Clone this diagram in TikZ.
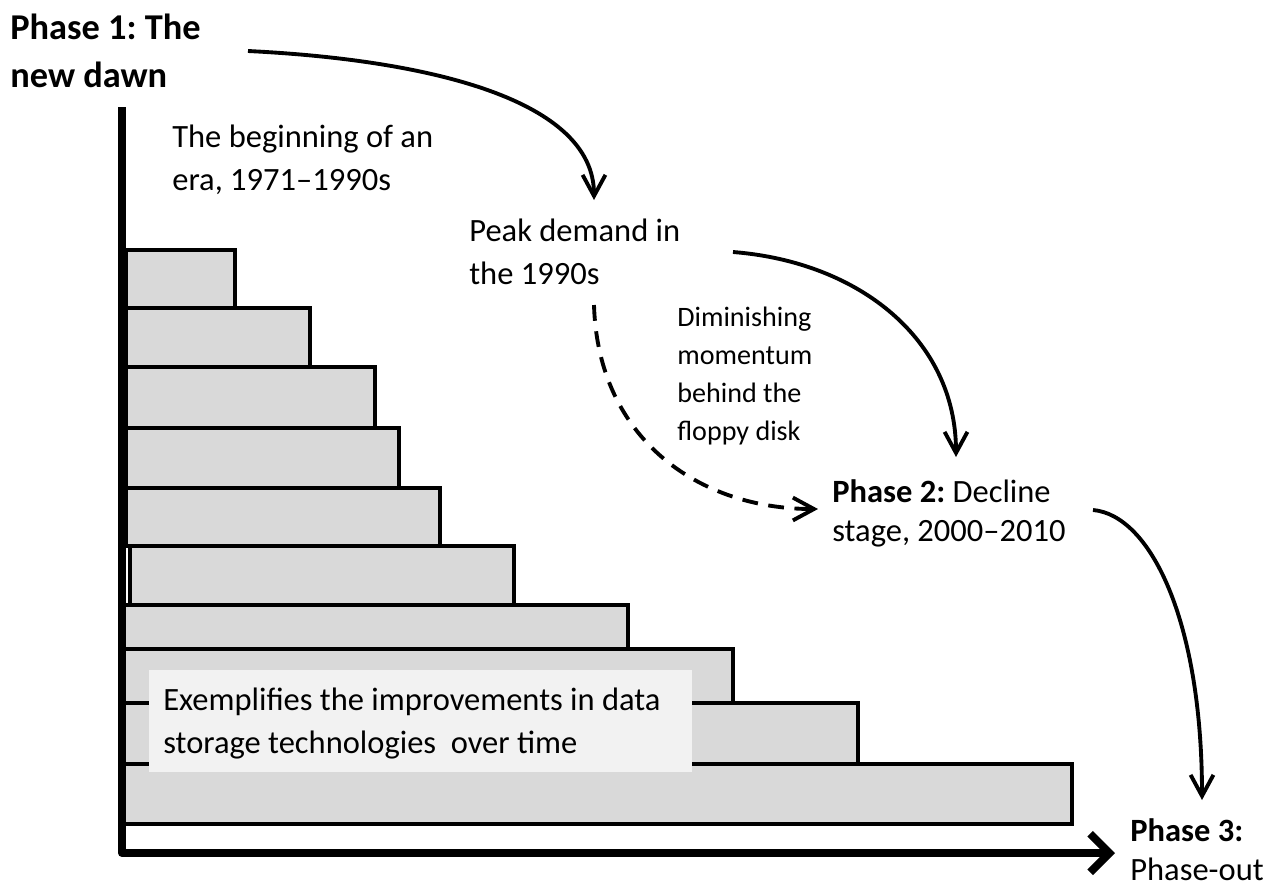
\documentclass[tikz,border=0pt]{standalone}
\usepackage{fontspec}
\setmainfont{Carlito}
\usetikzlibrary{arrows.meta}
\frenchspacing
\definecolor{barGray}{HTML}{D9D9D9}
\definecolor{noteGray}{HTML}{F2F2F2}
\tikzstyle{stepBar}=[draw = black, fill = barGray, line width = 2.2pt]
\tikzstyle{axisLine}=[line width = 4.5pt, line join = round, -{Straight Barb[length = 11pt, width = 22pt]}]
\tikzstyle{flowArrow}=[line width = 2.2pt, -{Straight Barb[length = 12pt, width = 13pt]}]
\tikzstyle{labelText}=[anchor = north west, inner sep = 0pt, align = left, font = {\fontsize{18.5}{24.5}\selectfont}]

\begin{document}
\begin{tikzpicture}[x = 0.02cm, y = -0.02cm]
\useasboundingbox (0,0) rectangle (1283,890);
\tikzstyle{smallText}=[labelText, font = {\fontsize{16}{21.5}\selectfont}]
\tikzstyle{titleText}=[labelText, font = {\bfseries\fontsize{20.7}{27.2}\selectfont}]
\tikzstyle{phaseText}=[labelText, font = {\fontsize{18.5}{22.5}\selectfont}]
% the steps, top to bottom
\draw[stepBar] (126,250) rectangle (235,308);
\draw[stepBar] (126,308) rectangle (310,367);
\draw[stepBar] (126,367) rectangle (375,428);
\draw[stepBar] (126,428) rectangle (399,488);
\draw[stepBar] (126,488) rectangle (440,546);
\draw[stepBar] (130,546) rectangle (514,605);
\draw[stepBar] (124,605) rectangle (628,649);
\draw[stepBar] (124,649) rectangle (733,703);
\draw[stepBar] (124,703) rectangle (858,764);
\draw[stepBar] (124,764) rectangle (1072,824);
% axes
\coordinate (top) at (122,107);
\coordinate (origin) at (122,853);
\coordinate (xend) at (1115,853);
\draw[axisLine] (top) -- (origin) -- (xend);
% note on the steps
\fill[noteGray] (149,670) rectangle (692,772);
\node[labelText] (note) at (163,688) {Exemplifies the improvements in data\\storage technologies\ \ over time};
% labels
\node[titleText] (phaseone) at (10,14) {Phase 1: The\\new dawn};
\node[labelText] (beginning) at (172,125) {The beginning of an\\era, 1971–1990s};
\node[labelText] (peak) at (469,219) {Peak demand in\\the 1990s};
\node[smallText] (diminish) at (677,307) {Diminishing\\momentum\\behind the\\floppy disk};
\node[phaseText] (phasetwo) at (832,479) {\textbf{Phase 2:} Decline\\stage, 2000–2010};
\node[phaseText] (phasethree) at (1130,818) {\textbf{Phase 3:}\\Phase-out};
% arrow ends
\coordinate (oneOut) at (248,51);
\coordinate (peakIn) at (594,200);
\coordinate (peakOut) at (733,252);
\coordinate (peakDown) at (594,305);
\coordinate (twoIn) at (956,457);
\coordinate (twoSide) at (818,509);
\coordinate (twoOut) at (1093,510);
\coordinate (threeIn) at (1202,800);
\draw[flowArrow] (oneOut) .. controls (430,60) and (594,100) .. (peakIn);
\draw[flowArrow] (peakOut) .. controls (860,262) and (956,340) .. (twoIn);
\draw[flowArrow, dash pattern = on 9pt off 6pt] (peakDown) .. controls (598,440) and (700,509) .. (twoSide);
\draw[flowArrow] (twoOut) .. controls (1150,515) and (1202,620) .. (threeIn);
\end{tikzpicture}
\end{document}
